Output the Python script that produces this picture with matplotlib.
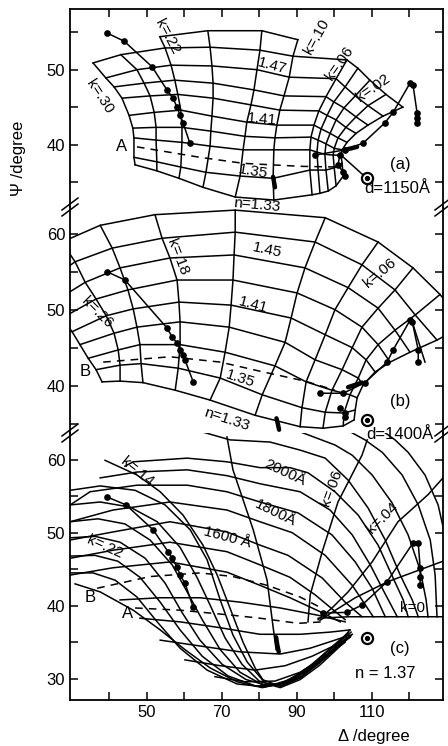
import numpy as np
import matplotlib.pyplot as plt
from matplotlib.lines import Line2D

plt.rcParams['font.family'] = ['Liberation Sans', 'DejaVu Sans']

nan = np.nan

# ---------------- panel (a): d = 1150 A ----------------
# rows: n = 1.33 ... 1.51, columns: k = .30 .26 .22 .18 .14 .10 .06 .05 .04 .03 .02
a_n = [1.33, 1.35, 1.37, 1.39, 1.41, 1.43, 1.45, 1.47, 1.49, 1.51]
a_k = [.30, .26, .22, .18, .14, .10, .06, .05, .04, .03, .02]
a_delta = [
    [46.9, 52.7, 58.6, 65.0, 73.6, 83.9, 94.1, 96.2, 98.4, 100.5, 102.4],
    [46.6, 52.7, 59.1, 65.8, 74.9, 83.7, 93.5, 95.7, 97.8, 100.0, 102.1],
    [46.6, 52.5, 59.4, 66.9, 75.7, 83.9, 93.5, 95.4, 97.5, 99.7, 101.8],
    [46.3, 52.5, 59.4, 67.1, 76.2, 84.2, 93.8, 95.7, 97.8, 100.0, 102.1],
    [45.3, 52.0, 59.1, 67.4, 76.7, 84.7, 94.6, 96.5, 98.9, 101.0, 103.4],
    [43.4, 50.9, 58.3, 67.7, 77.8, 85.5, 95.9, 98.1, 100.5, 103.1, 105.8],
    [41.3, 49.3, 57.5, 67.7, 78.6, 86.6, 97.8, 99.9, 102.6, 105.8, 109.0],
    [39.1, 47.4, 56.5, 67.4, 79.4, 88.0, 100.5, 102.9, 105.6, 109.0, 113.0],
    [35.7, 43.1, 54.9, 66.9, 80.2, 89.0, 103.4, 106.3, 109.5, 113.8, 118.3],
    [nan, nan, 53.5, 66.3, 80.7, 90.3, nan, nan, nan, nan, nan],
]
a_psi = [
    [37.3, 36.5, 35.5, 34.3, 33.0, 32.6, 33.3, 33.5, 33.8, 34.5, 35.8],
    [38.3, 37.7, 37.0, 36.3, 35.8, 35.5, 36.6, 36.6, 36.6, 36.9, 37.5],
    [40.9, 40.6, 40.3, 39.8, 39.3, 39.3, 39.3, 39.0, 38.7, 38.6, 38.6],
    [42.2, 42.3, 42.3, 41.8, 41.1, 40.9, 41.0, 40.6, 40.1, 39.5, 39.3],
    [43.9, 44.3, 44.6, 43.8, 43.0, 42.6, 42.6, 42.1, 41.5, 40.9, 40.3],
    [46.2, 46.5, 46.7, 46.2, 45.3, 44.6, 44.5, 43.9, 43.3, 42.3, 41.5],
    [47.7, 48.2, 48.6, 48.2, 47.3, 46.5, 46.4, 45.7, 44.9, 43.7, 42.6],
    [48.9, 50.0, 50.6, 50.5, 50.0, 49.0, 48.8, 47.7, 46.5, 45.2, 43.8],
    [50.9, 52.0, 52.9, 53.0, 52.6, 51.8, 51.3, 50.2, 48.6, 46.7, 45.0],
    [nan, nan, 54.4, 55.2, 55.2, 54.0, nan, nan, nan, nan, nan],
]
a_dash_delta = [47.4, 64.2, 75.7, 90.9, 101.5]
a_dash_psi = [39.7, 38.3, 37.5, 37.1, 37.0]
a_left_delta = [39.4, 44.0, 51.4, 55.4, 57.0, 58.1, 58.9, 59.7, 61.5]
a_left_psi = [54.9, 53.8, 50.4, 47.3, 46.2, 45.0, 43.9, 42.9, 40.2]
a_right_delta = [122.1, 122.1, 122.1, 121.0, 120.2, 115.7, 113.5, 107.7, 102.9, 94.9]
a_right_psi = [42.9, 43.5, 44.2, 48.0, 48.2, 44.3, 42.9, 40.2, 39.3, 38.6]
a_down_delta = [101.5, 101.0, 102.4, 102.9]
a_down_psi = [38.6, 37.3, 36.3, 35.8]
a_tie_delta = [101.8, 108.7]
a_tie_psi = [38.6, 35.5]
a_heavy_delta = [[83.7, 84.2], [102.9, 106.1]]
a_heavy_psi = [[35.7, 34.3], [39.3, 39.7]]
a_ring = (108.7, 35.5)
a_labels = ['1.47', '1.41', '1.35', 'n=1.33', 'k=.30', 'k=.22', 'k=.10', 'k=.06',
            'k=.02', '(a)', 'd=1150Å', 'A']
a_lab_delta = [83.4, 80.7, 78.3, 79.4, 37.5, 55.4, 95.4, 101.5, 110.3, 117.5, 116.7, 43.4]
a_lab_psi = [50.5, 43.4, 36.4, 31.9, 46.4, 54.4, 54.4, 50.9, 47.6, 37.3, 34.2, 39.7]
a_lab_rot = [-15, -5, -10, -5, -57, -62, 61, 55, 35, 0, 0, 0]

# ---------------- panel (b): d = 1400 A ----------------
# rows: n = 1.33 ... 1.49, columns: k = .30 .26 .22 .18 .14 .10 .08 .06 .04 .02
b_n = [1.33, 1.35, 1.37, 1.39, 1.41, 1.43, 1.45, 1.47, 1.49]
b_k = [.30, .26, .22, .18, .14, .10, .08, .06, .04, .02]
b_delta = [
    [38.1, 42.9, 49.0, 57.6, 66.9, 78.9, 90.9, 97.0, 102.4, 105.3],
    [36.5, 42.9, 48.5, 58.4, 69.6, 80.8, 91.4, 97.6, 102.6, 105.6],
    [34.4, 42.4, 48.2, 58.9, 70.9, 84.2, 92.5, 99.4, 104.2, 106.1],
    [32.2, 41.3, 47.4, 58.9, 72.0, 86.9, 94.9, 102.1, 106.4, 107.7],
    [30.1, 39.2, 46.4, 58.6, 72.5, 88.5, 97.6, 104.8, 108.5, 110.9],
    [27.4, 36.5, 45.0, 58.1, 73.0, 90.1, 100.2, 107.4, 111.7, 114.9],
    [24.8, 33.6, 42.9, 56.2, 73.3, 92.2, 103.7, 111.7, 116.2, 120.2],
    [21.6, 30.9, 40.8, 54.1, 73.6, 94.9, 107.4, 116.2, 121.6, 127.4],
    [18.4, 27.4, 37.6, 52.2, 73.6, 97.6, 111.7, 121.0, 128.2, 134.9],
]
b_psi = [
    [40.5, 40.6, 40.4, 39.4, 38.1, 36.1, 34.6, 34.4, 34.7, 35.5],
    [42.1, 42.7, 42.9, 42.3, 41.0, 38.8, 37.1, 36.5, 36.4, 36.8],
    [43.6, 44.7, 45.4, 45.4, 44.4, 42.6, 40.5, 39.4, 38.8, 38.4],
    [45.4, 46.9, 47.7, 48.4, 47.7, 45.7, 43.4, 42.1, 41.0, 40.1],
    [47.1, 49.2, 50.1, 51.0, 50.6, 48.9, 46.7, 45.0, 43.4, 41.8],
    [48.9, 51.4, 52.6, 53.9, 53.9, 52.2, 50.0, 47.7, 45.4, 43.1],
    [50.9, 53.6, 55.5, 56.8, 57.2, 55.5, 52.9, 50.2, 47.3, 44.4],
    [53.0, 56.3, 58.1, 59.4, 60.2, 58.9, 55.9, 52.6, 49.3, 46.0],
    [55.2, 58.9, 61.1, 62.5, 63.1, 62.1, 58.9, 55.5, 52.0, 48.0],
]
b_dash_delta = [38.4, 56.2, 69.6, 80.2, 92.2, 100.2]
b_dash_psi = [43.1, 43.8, 43.1, 41.9, 40.6, 39.4]
b_left_delta = [39.4, 44.2, 55.4, 56.8, 58.1, 58.9, 59.7, 60.2, 62.4]
b_left_psi = [55.0, 53.9, 47.6, 46.4, 45.6, 44.7, 44.0, 43.4, 40.5]
b_right_delta = [122.4, 122.4, 120.8, 120.2, 115.7, 114.1, 108.2, 102.4, 96.2]
b_right_psi = [43.1, 44.7, 48.4, 48.6, 44.7, 43.1, 40.4, 39.0, 39.0]
b_side_delta = [120.8, 124.2]
b_side_psi = [48.4, 43.1]
b_down_delta = [101.6, 102.9, 102.9]
b_down_psi = [37.1, 36.4, 35.9]
b_heavy_delta = [[103.7, 107.4], [84.6, 85.0, 85.3]]
b_heavy_psi = [[39.8, 40.4], [35.7, 34.9, 34.2]]
b_ring = (108.8, 35.5)
b_labels = ['1.45', '1.41', '1.35', 'n=1.33', 'k=.26', 'k=.18', 'k=.06', 'B',
            '(b)', 'd=1400Å']
b_lab_delta = [82.1, 78.4, 74.9, 71.4, 36.8, 58.1, 112.2, 33.6, 117.6, 117.6]
b_lab_psi = [57.8, 50.6, 40.9, 35.5, 49.6, 56.9, 54.8, 41.8, 37.9, 33.6]
b_lab_rot = [-12, -15, -18, -18, -45, -69, 40, 0, 0, 0]

# ---------------- panel (c): n = 1.37 ----------------
# constant thickness curves
c_arc_d = [1400, 1500, 1600, 1700, 1800, 1900, 2000, 2100, 2200, 2300, 2400]
c_arc_delta = [
    [29.6, 41.0, 56.2, 71.4, 80.2, 88.2, 96.2, 101.6],
    [29.6, 41.0, 56.2, 71.4, 80.2, 88.2, 94.9, 102.9],
    [29.6, 41.0, 56.2, 71.4, 80.2, 87.7, 96.8, 102.9, 107.4],
    [29.6, 41.0, 56.2, 71.4, 80.2, 88.8, 97.6, 104.8, 110.4],
    [29.6, 34.9, 47.4, 60.8, 71.4, 80.2, 90.4, 99.4, 105.6, 110.1, 113.6],
    [37.6, 47.4, 60.8, 71.4, 80.2, 90.9, 98.9, 104.8, 109.6, 113.3, 116.8],
    [44.2, 46.4, 60.8, 71.4, 80.2, 88.2, 93.0, 100.2, 106.4, 111.7, 115.7, 118.4, 119.7],
    [60.0, 72.2, 82.9, 90.9, 97.6, 103.7, 109.0, 113.6, 117.6, 120.8, 122.4],
    [85.0, 90.9, 100.2, 104.8, 110.1, 115.4, 119.7, 122.9, 124.5, 125.0],
    [100.0, 108.2, 112.8, 118.1, 122.4, 125.6, 126.9, 127.4],
    [110.0, 116.2, 119.7, 124.2, 127.7, 129.8],
]
c_arc_psi = [
    [44.2, 45.2, 46.0, 44.6, 42.8, 41.1, 39.2, 37.8],
    [46.5, 47.6, 48.7, 47.4, 45.6, 43.9, 41.5, 38.1],
    [49.0, 50.1, 51.5, 50.1, 48.3, 46.9, 43.8, 40.5, 38.5],
    [51.5, 53.1, 54.2, 53.1, 51.5, 50.0, 46.9, 42.8, 38.5],
    [53.8, 55.6, 56.5, 56.5, 55.6, 54.2, 52.7, 49.7, 46.0, 42.4, 38.5],
    [57.5, 58.3, 58.6, 57.8, 56.7, 55.6, 53.1, 49.7, 45.6, 41.9, 38.5],
    [59.1, 59.7, 60.2, 59.7, 58.9, 58.9, 58.2, 55.6, 52.4, 48.3, 43.8, 40.8, 38.5],
    [64.5, 62.7, 62.4, 61.3, 60.2, 57.2, 53.4, 49.0, 44.2, 40.8, 38.5],
    [65.0, 63.8, 62.0, 60.6, 57.9, 54.1, 49.7, 44.9, 40.8, 38.5],
    [65.0, 62.7, 61.0, 57.9, 53.8, 49.0, 44.2, 38.5],
    [65.0, 62.7, 61.0, 57.9, 53.8, 49.0],
]
# constant k curves dropping into the trough
c_drop_delta = [
    [38.9, 47.4, 53.6, 59.7, 65.0, 68.8, 72.2, 75.7, 78.9, 81.6, 85.6, 90.9, 96.2, 101.0, 104.2],
    [29.6, 37.6, 46.9, 54.9, 61.6, 66.1, 69.6, 73.0, 76.8, 80.8, 85.6, 90.9, 96.2, 101.0, 104.2],
    [29.6, 37.6, 45.6, 52.8, 58.9, 63.4, 66.9, 70.9, 75.4, 80.2, 86.1, 91.4, 96.8, 101.6, 104.5],
    [29.6, 37.0, 44.2, 50.9, 56.8, 61.0, 64.8, 69.6, 74.9, 80.8, 86.9, 92.2, 97.6, 102.1, 104.8],
    [29.6, 36.2, 42.9, 49.6, 54.9, 59.4, 64.2, 70.1, 76.5, 82.9, 88.8, 94.1, 99.4, 103.4],
    [29.6, 36.2, 42.3, 48.2, 53.6, 58.9, 64.8, 71.7, 79.2, 85.6, 91.4, 96.8, 101.6, 104.5],
    [29.6, 35.7, 41.6, 47.4, 52.8, 58.9, 66.1, 74.1, 81.6, 88.2, 94.1, 99.4, 103.7],
    [30.9, 37.6, 46.4, 53.6, 60.2, 66.9, 74.1, 80.8, 88.2, 94.9, 100.5, 104.2],
]
c_drop_psi = [
    [59.9, 57.9, 55.6, 52.4, 48.3, 44.2, 39.7, 35.0, 31.5, 29.4, 28.8, 29.9, 31.9, 34.2, 35.9],
    [55.8, 56.4, 55.8, 53.8, 50.4, 46.3, 40.8, 36.0, 32.3, 29.9, 29.0, 30.1, 32.2, 34.4, 35.7],
    [53.8, 54.2, 53.5, 51.5, 48.0, 43.9, 40.1, 35.6, 32.0, 29.6, 29.0, 30.4, 32.6, 34.6, 35.9],
    [51.5, 51.9, 51.2, 49.0, 45.6, 41.7, 38.1, 34.0, 30.9, 29.2, 29.3, 30.9, 33.1, 35.0, 36.1],
    [49.3, 49.5, 48.7, 46.5, 43.1, 39.1, 35.3, 32.0, 29.9, 29.0, 29.9, 31.8, 33.9, 35.7],
    [46.8, 46.9, 46.1, 43.9, 40.5, 36.7, 33.1, 30.4, 29.0, 29.3, 30.9, 33.1, 35.2, 36.4],
    [44.5, 44.5, 43.5, 41.2, 37.8, 34.2, 31.2, 29.3, 28.9, 29.9, 32.0, 34.4, 36.3],
    [43.0, 41.9, 39.4, 36.7, 34.0, 31.5, 29.6, 28.8, 29.6, 31.9, 34.5, 36.7],
]
# shallow curves from lower left into the nose
c_low_delta = [
    [42.9, 53.6, 64.2, 74.9, 85.6, 95.7, 102.9],
    [48.2, 58.9, 69.6, 80.2, 90.9, 98.9, 104.2],
    [53.6, 64.2, 74.9, 85.6, 93.6, 100.2, 104.2],
    [60.2, 69.6, 78.9, 86.9, 94.1, 100.2, 104.2],
    [68.2, 76.2, 84.2, 90.9, 97.6, 102.9],
]
c_low_psi = [
    [40.8, 41.1, 41.1, 40.5, 39.7, 38.7, 37.8],
    [38.3, 37.8, 37.0, 36.1, 36.1, 36.4, 36.7],
    [35.3, 34.5, 33.7, 33.4, 34.2, 35.3, 36.0],
    [32.6, 31.8, 31.2, 31.8, 33.1, 34.6, 35.7],
    [30.3, 29.6, 29.7, 30.9, 33.0, 35.0],
]
# constant k lines leaving the nose
c_ray_k = [.10, .06, .04, .02, 0]
c_ray_delta = [
    [71.4, 73.0, 78.4, 82.1, 83.7, 84.5],
    [108.8, 107.4, 101.0, 96.8, 93.6, 93.0],
    [129.0, 125.0, 117.0, 110.1, 103.7, 99.4, 95.7],
    [129.0, 114.3, 105.6, 99.4, 96.2],
    [95.7, 104.0, 129.5],
]
c_ray_psi = [
    [63.1, 58.6, 50.4, 43.5, 37.1, 34.0],
    [62.7, 60.6, 54.2, 47.4, 41.5, 37.8],
    [57.5, 55.2, 51.5, 46.0, 41.9, 39.7, 38.1],
    [46.1, 43.3, 41.1, 39.1, 38.0],
    [38.3, 38.5, 38.5],
]
c_dashB_delta = [36.8, 50.9, 64.2, 73.0, 82.1, 90.9, 96.2]
c_dashB_psi = [42.4, 44.0, 44.5, 44.0, 42.8, 41.2, 39.8]
c_dashA_delta = [46.9, 58.9, 73.0, 80.2, 90.4, 96.8]
c_dashA_psi = [39.7, 39.4, 38.7, 38.3, 37.6, 37.8]
c_left_delta = [39.4, 44.5, 51.7, 55.7, 56.8, 58.1, 58.9, 60.2, 62.4]
c_left_psi = [54.9, 53.8, 50.4, 47.4, 46.5, 45.3, 44.2, 43.1, 39.8]
c_right_delta = [122.9, 122.9, 122.9, 122.4, 121.0, 114.1, 107.4, 103.4, 97.0]
c_right_psi = [42.8, 43.9, 45.2, 48.6, 48.6, 43.3, 40.1, 39.1, 39.0]
c_heavy_delta = [[84.5, 84.8, 85.2]]
c_heavy_psi = [[35.7, 34.7, 33.7]]
c_ring = (108.8, 35.6)
c_labels = ['k=.14', 'k=.22', '1600 Å', '1800Å', '2000Å', 'k=.06', 'k=.04', 'k=0',
            '(c)', 'n = 1.37', 'B', 'A']
c_lab_delta = [47.4, 38.9, 71.4, 84.2, 86.9, 99.4, 112.8, 120.8, 117.6, 113.6, 34.9, 44.8]
c_lab_psi = [58.3, 48.0, 49.4, 52.7, 58.2, 56.1, 52.0, 39.7, 34.2, 30.8, 41.2, 39.0]
c_lab_rot = [-39, -24, -15, -26, -25, 70, 45, 0, 0, 0, 0, 0]

x_ticks = [40, 50, 60, 70, 80, 90, 100, 110, 120]
x_ticklabels = ['', '50', '', '70', '', '90', '', '110', '']

LW = 1.1
K = 'black'


def mesh(ax, dl, ps):
    dl = np.array(dl)
    ps = np.array(ps)
    for i in range(dl.shape[0]):
        ax.plot(dl[i], ps[i], color=K, lw=LW)
    for j in range(dl.shape[1]):
        ax.plot(dl[:, j], ps[:, j], color=K, lw=LW)


def curves(ax, dls, pss):
    for d, p in zip(dls, pss):
        ax.plot(d, p, color=K, lw=LW)


def dots(ax, d, p):
    ax.plot(d, p, color=K, lw=LW, marker='o', ms=3.8)


def heavy(ax, dls, pss):
    for d, p in zip(dls, pss):
        ax.plot(d, p, color=K, lw=3.2, solid_capstyle='round')


def ring(ax, pt):
    ax.plot(*pt, 'o', ms=8, mfc='white', mec=K, mew=1.6)
    ax.plot(*pt, 'o', ms=2.8, color=K)


def labels(ax, txt, dl, ps, rot):
    for t, d, p, r in zip(txt, dl, ps, rot):
        fs = 11 if (t[0].isdigit() or t.startswith('n=') or t.startswith('k')) else 12
        ax.text(d, p, t, ha='center', va='center', rotation=r,
                rotation_mode='anchor', fontsize=fs, clip_on=False)


fig = plt.figure(figsize=(4.48, 7.46), dpi=100)
W, H = 448, 746
x0, x1 = 70, 443
ax_a = fig.add_axes([x0 / W, 1 - 207 / H, (x1 - x0) / W, (207 - 9) / H])
ax_b = fig.add_axes([x0 / W, 1 - 433 / H, (x1 - x0) / W, (433 - 207) / H])
ax_c = fig.add_axes([x0 / W, 1 - 700 / H, (x1 - x0) / W, (700 - 433) / H])

# panel (a)
mesh(ax_a, a_delta, a_psi)
ax_a.plot(a_dash_delta, a_dash_psi, color=K, lw=LW, ls=(0, (5, 4)))
dots(ax_a, a_left_delta, a_left_psi)
dots(ax_a, a_right_delta, a_right_psi)
dots(ax_a, a_down_delta, a_down_psi)
ax_a.plot(a_tie_delta, a_tie_psi, color=K, lw=LW)
heavy(ax_a, a_heavy_delta, a_heavy_psi)
ring(ax_a, a_ring)
labels(ax_a, a_labels, a_lab_delta, a_lab_psi, a_lab_rot)

# panel (b)
mesh(ax_b, b_delta, b_psi)
ax_b.plot(b_dash_delta, b_dash_psi, color=K, lw=LW, ls=(0, (5, 4)))
dots(ax_b, b_left_delta, b_left_psi)
dots(ax_b, b_right_delta, b_right_psi)
ax_b.plot(b_side_delta, b_side_psi, color=K, lw=LW)
dots(ax_b, b_down_delta, b_down_psi)
heavy(ax_b, b_heavy_delta, b_heavy_psi)
ring(ax_b, b_ring)
labels(ax_b, b_labels, b_lab_delta, b_lab_psi, b_lab_rot)

# panel (c)
curves(ax_c, c_arc_delta, c_arc_psi)
curves(ax_c, c_drop_delta, c_drop_psi)
curves(ax_c, c_low_delta, c_low_psi)
curves(ax_c, c_ray_delta, c_ray_psi)
ax_c.plot(c_dashB_delta, c_dashB_psi, color=K, lw=LW, ls=(0, (5, 4)))
ax_c.plot(c_dashA_delta, c_dashA_psi, color=K, lw=LW, ls=(0, (5, 4)))
dots(ax_c, c_left_delta, c_left_psi)
dots(ax_c, c_right_delta, c_right_psi)
heavy(ax_c, c_heavy_delta, c_heavy_psi)
ring(ax_c, c_ring)
labels(ax_c, c_labels, c_lab_delta, c_lab_psi, c_lab_rot)

# axes: three stacked panels with a broken Psi axis
limits = [(31.67, 58.1), (33.77, 63.51), (27.11, 63.64)]
yticks = [[35, 40, 45, 50, 55], [35, 40, 45, 50, 55, 60], [30, 35, 40, 45, 50, 55, 60]]
for ax, lim, yt in zip([ax_a, ax_b, ax_c], limits, yticks):
    ax.set_facecolor('none')
    ax.set_xlim(29.55, 129.0)
    ax.set_ylim(*lim)
    ax.set_yticks(yt)
    ax.set_yticklabels([str(t) if t % 10 == 0 else '' for t in yt])
    ax.set_xticks(x_ticks)
    ax.tick_params(direction='in', length=6, width=1.1, labelsize=12,
                   left=True, right=True, top=False, bottom=False,
                   labelbottom=False)
    for s in ax.spines.values():
        s.set_linewidth(1.3)

ax_a.spines['bottom'].set_visible(False)
ax_a.tick_params(top=True)
ax_b.spines['top'].set_visible(False)
ax_b.spines['bottom'].set_visible(False)
ax_c.spines['top'].set_visible(False)
ax_c.tick_params(bottom=True, labelbottom=True)
ax_c.set_xticklabels(x_ticklabels)

# axis break marks
for yb in (207, 433):
    for xs in (x0, x1):
        for off in (-3, 3):
            fig.add_artist(Line2D([(xs - 8) / W, (xs + 8) / W],
                                  [1 - (yb + off + 6) / H, 1 - (yb + off - 6) / H],
                                  color=K, lw=1.1))

fig.text(18 / W, 1 - 158 / H, 'Ψ /degree', rotation=90, ha='center', va='center', fontsize=12)
fig.text(374 / W, 1 - 737 / H, 'Δ /degree', ha='center', va='center', fontsize=12)

fig.savefig('out.png', dpi=100)
